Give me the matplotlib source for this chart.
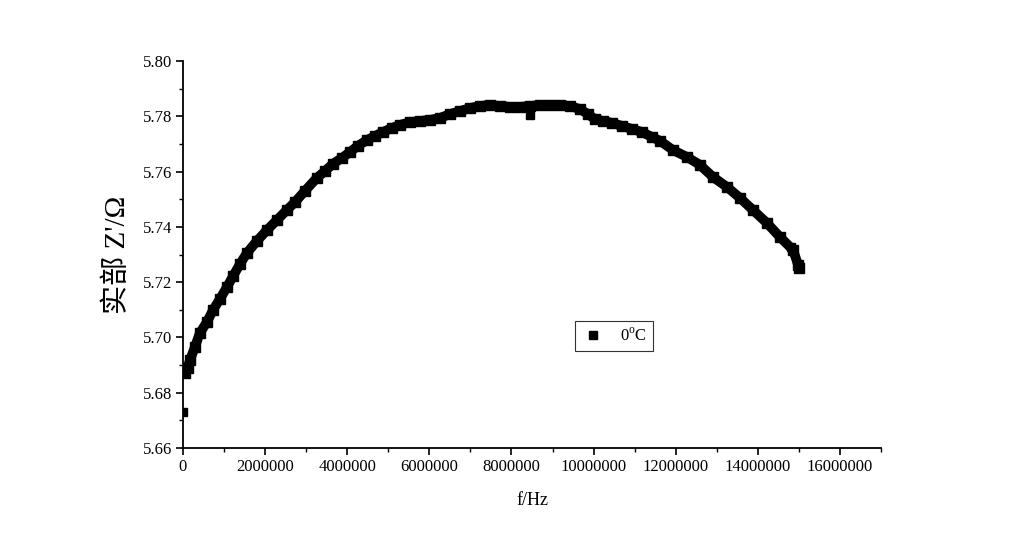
import numpy as np
import matplotlib
matplotlib.use("Agg")
import matplotlib.pyplot as plt
from matplotlib.ticker import MultipleLocator, FuncFormatter
from matplotlib.lines import Line2D

# (f in Hz, Z' in ohm)
freq_hz = [50000, 110000, 170000, 290000, 410000, 585000, 730000, 900000,
           1070000, 1220000, 1390000, 1560000, 1800000, 2050000, 2290000,
           2530000, 2730000, 2970000, 3260000, 3460000, 3650000, 3870000,
           4070000, 4260000, 4480000, 4680000, 4870000, 5090000, 5290000,
           5530000, 5770000, 6020000, 6260000, 6500000, 6750000, 6990000,
           7230000, 7480000, 7720000, 7960000, 8210000, 8450000, 8690000,
           8940000, 9180000, 9430000, 9670000, 9860000, 10030000, 10230000,
           10450000, 10690000, 10940000, 11180000, 11420000, 11620000,
           11930000, 12270000, 12590000, 12910000, 13250000, 13570000,
           13880000, 14220000, 14540000, 14860000, 14980000, 15000000]
z_real = [5.6871, 5.6889, 5.6918, 5.6965, 5.7016, 5.7056, 5.7099, 5.7139,
          5.7182, 5.7222, 5.7266, 5.7306, 5.7349, 5.7389, 5.7425,
          5.7461, 5.7490, 5.7530, 5.7577, 5.7602, 5.7628, 5.7649,
          5.7671, 5.7693, 5.7714, 5.7729, 5.7743, 5.7758, 5.7769,
          5.7779, 5.7783, 5.7787, 5.7794, 5.7808, 5.7819, 5.7830,
          5.7837, 5.7841, 5.7837, 5.7834, 5.7834, 5.7837, 5.7841,
          5.7841, 5.7841, 5.7837, 5.7826, 5.7808, 5.7790, 5.7783,
          5.7776, 5.7765, 5.7754, 5.7743, 5.7725, 5.7711,
          5.7678, 5.7653, 5.7624, 5.7580, 5.7544, 5.7504,
          5.7461, 5.7414, 5.7363, 5.7316, 5.7262, 5.7251]

# stray points off the main band
stray_f = [0, 8450000, 14810000]
stray_z = [5.6730, 5.7805, 5.7327]

x_ticks = [0, 2000000, 4000000, 6000000, 8000000, 10000000, 12000000,
           14000000, 16000000]
y_ticks = [5.66, 5.68, 5.70, 5.72, 5.74, 5.76, 5.78, 5.80]

serif = ['Liberation Serif', 'DejaVu Serif']
plt.rcParams['font.family'] = serif
plt.rcParams['mathtext.fontset'] = 'custom'
plt.rcParams['mathtext.rm'] = 'Liberation Serif'

fig = plt.figure(figsize=(10.24, 5.37), dpi=100)
ax = fig.add_axes([0.1787, 0.1657, 0.6817, 0.7207])

# dense square markers in the original -> thick band plus squares
ax.plot(freq_hz, z_real, '-', color='black', lw=7, solid_capstyle='butt')
ax.plot(freq_hz, z_real, 's', color='black', ms=7, mec='black')
ax.plot(stray_f, stray_z, 's', color='black', ms=5.5, mec='black')

ax.set_xlim(0, 17000000)
ax.set_ylim(5.66, 5.80)
ax.set_xticks(x_ticks)
ax.set_yticks(y_ticks)
ax.xaxis.set_minor_locator(MultipleLocator(1000000))
ax.yaxis.set_minor_locator(MultipleLocator(0.01))
ax.xaxis.set_major_formatter(FuncFormatter(lambda v, p: f"{int(round(v))}"))
ax.yaxis.set_major_formatter(FuncFormatter(lambda v, p: f"{v:.2f}"))

for side in ['top', 'right']:
    ax.spines[side].set_visible(False)
for side in ['left', 'bottom']:
    ax.spines[side].set_linewidth(1.3)
ax.tick_params(which='major', direction='out', length=5, width=1.2,
               labelsize=12, pad=3)
ax.tick_params(which='minor', direction='out', length=3, width=1.0)

ax.set_xlabel("f/Hz", fontsize=13, labelpad=12)
ax.set_ylabel("实部 Z'/Ω", fontsize=21, labelpad=8,
              family=['Liberation Serif', 'Noto Sans CJK SC'])

handle = Line2D([], [], ls='none', marker='s', color='black', ms=6)
leg = ax.legend([handle], ["0$^\\mathrm{o}$C"], loc='center',
                bbox_to_anchor=(0.6175, 0.2894), fontsize=12,
                fancybox=False, framealpha=1, handlelength=1.4,
                borderpad=0.4, handletextpad=0.9, borderaxespad=0)
leg.get_frame().set_edgecolor('#333333')
leg.get_frame().set_linewidth(0.8)

fig.savefig("out.png", dpi=100)
